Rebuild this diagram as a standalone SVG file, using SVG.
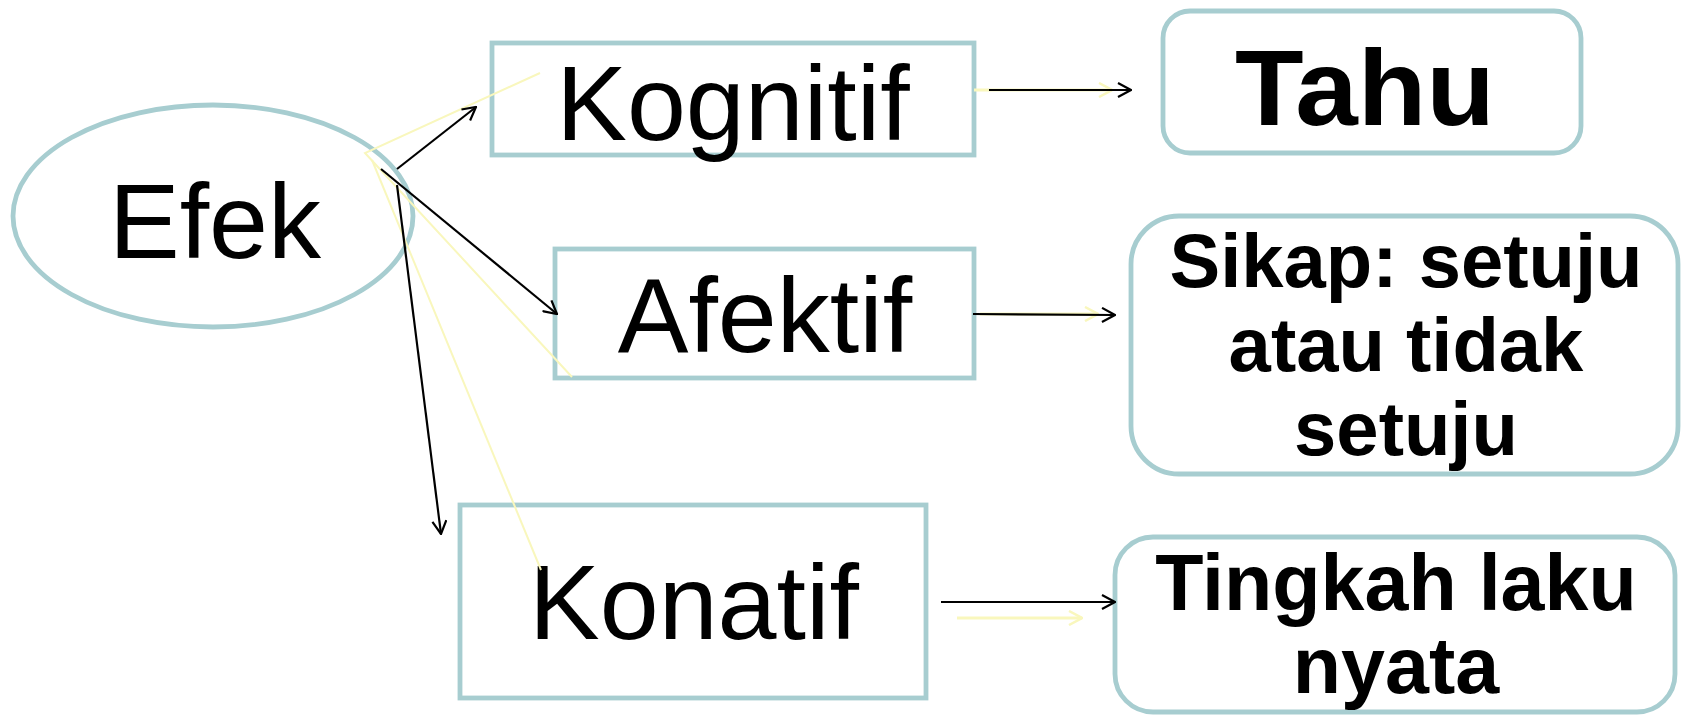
<svg xmlns="http://www.w3.org/2000/svg" width="1684" height="721" viewBox="0 0 1684 721">
<style>
.node{fill:#fff;stroke:#a7cdd0;stroke-width:4.8}
.t{font-family:"Liberation Sans",Arial,sans-serif;font-size:106px;fill:#000;text-anchor:middle}
.b{font-family:"Liberation Sans",Arial,sans-serif;font-weight:bold;fill:#000;text-anchor:middle}
.c{fill:none;stroke:#000;stroke-width:2.2;marker-end:url(#arr)}
.y{fill:none;stroke:#f9f7bd;stroke-width:2}
.ya{fill:none;stroke:#f9f7bd;stroke-width:3;marker-end:url(#yarr)}
</style>
<defs>
<marker id="arr" viewBox="0 0 16 16" refX="15" refY="8" markerWidth="16" markerHeight="16" markerUnits="userSpaceOnUse" orient="auto">
<path d="M2,1 L15,8 L2,15" fill="none" stroke="#000" stroke-width="2.2"/>
</marker>
<marker id="yarr" viewBox="0 0 16 16" refX="15" refY="8" markerWidth="16" markerHeight="16" markerUnits="userSpaceOnUse" orient="auto">
<path d="M2,1 L15,8 L2,15" fill="none" stroke="#f9f7bd" stroke-width="2.5"/>
</marker>
</defs>
<g id="efek">
<ellipse class="node" cx="213" cy="216" rx="200" ry="111"/>
<text class="t" x="215" y="258">Efek</text>
</g>
<g id="kognitif">
<rect class="node" x="492" y="43" width="482" height="112"/>
<text class="t" x="733" y="140">Kognitif</text>
</g>
<g id="afektif">
<rect class="node" x="555" y="249" width="419" height="129"/>
<text class="t" x="765" y="352">Afektif</text>
</g>
<g id="konatif">
<rect class="node" x="460" y="505" width="466" height="193"/>
<text class="t" x="694" y="639">Konatif</text>
</g>
<g id="tahu">
<rect class="node" x="1163" y="11" width="418" height="142" rx="27"/>
<text class="b" x="1365" y="125" font-size="108" textLength="260" lengthAdjust="spacingAndGlyphs">Tahu</text>
</g>
<g id="sikap">
<rect class="node" x="1131" y="216" width="547" height="258" rx="48"/>
<text class="b" font-size="76"><tspan x="1406" y="287">Sikap: setuju</tspan><tspan x="1406" y="371">atau tidak</tspan><tspan x="1406" y="455">setuju</tspan></text>
</g>
<g id="tingkah">
<rect class="node" x="1115" y="537" width="560" height="175" rx="38"/>
<text class="b" font-size="79"><tspan x="1396" y="610">Tingkah laku</tspan><tspan x="1396" y="693">nyata</tspan></text>
</g>
<g id="connectors">
<polyline class="y" points="540,73 365,153 572,377"/>
<line class="y" x1="372" y1="160" x2="541" y2="570"/>
<line class="ya" x1="974" y1="90" x2="1112" y2="90"/>
<line class="ya" x1="980" y1="314" x2="1098" y2="314"/>
<line class="ya" x1="957" y1="618" x2="1082" y2="618"/>
<line class="c" x1="397" y1="169" x2="476" y2="107"/>
<line class="c" x1="381" y1="169" x2="557" y2="314"/>
<line class="c" x1="397" y1="185" x2="441" y2="534"/>
<line class="c" x1="989" y1="90" x2="1131" y2="90"/>
<line class="c" x1="973" y1="314" x2="1115" y2="315"/>
<line class="c" x1="941" y1="602" x2="1115" y2="602"/>
</g>
</svg>
